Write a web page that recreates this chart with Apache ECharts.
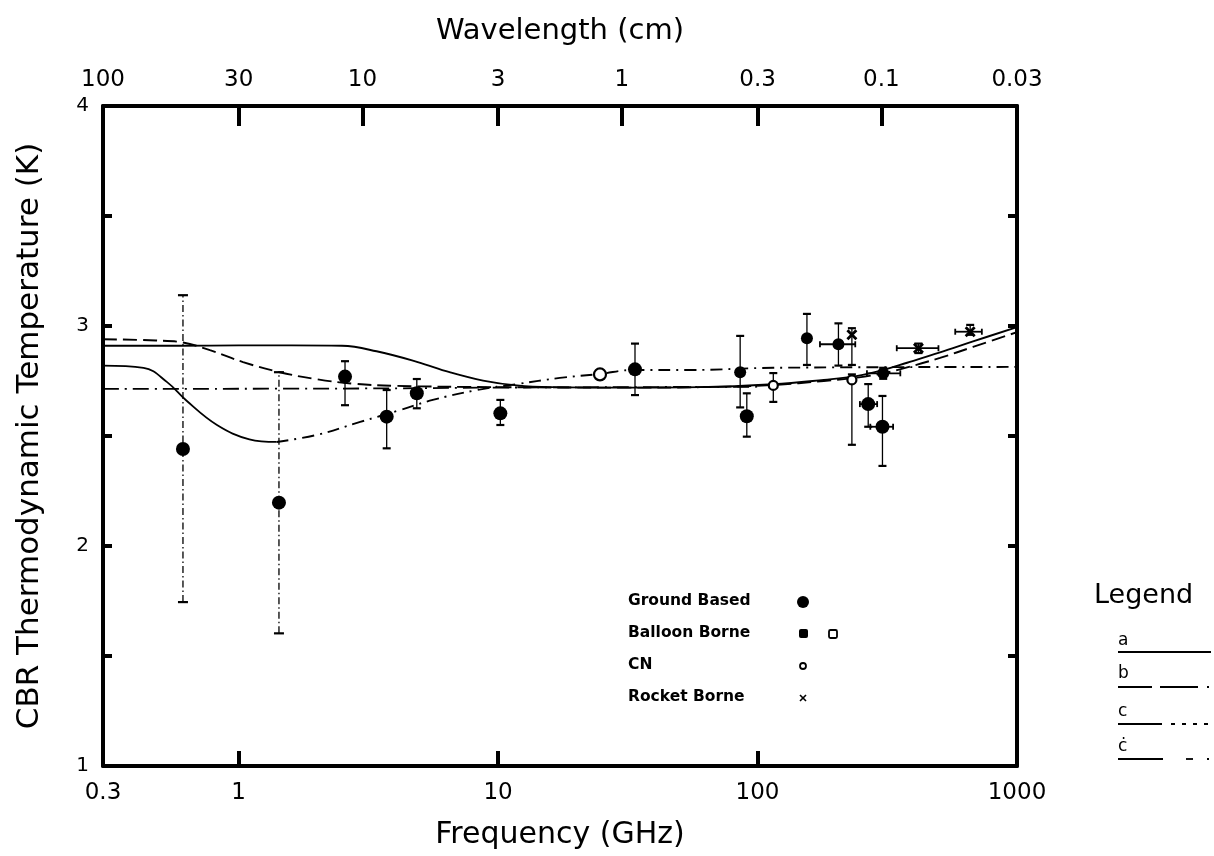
<!DOCTYPE html>
<html>
<head>
<meta charset="utf-8">
<script src="https://cdn.jsdelivr.net/npm/echarts@6/dist/echarts.min.js"></script>
<style>
html,body{margin:0;padding:0;background:#fff;}
#chart{width:1214px;height:856px;}
</style>
</head>
<body>
<div id="chart"></div>
<script>
// ---------- data ----------
// theoretical curves: [frequency GHz, temperature K]
const curveA = [[0.3,2.91],[0.6,2.91],[1,2.912],[1.6,2.912],[2.5,2.91],[3.4,2.885],[4.9,2.836],[6.5,2.79],[8.75,2.752],[11.8,2.73],[16,2.722],[30,2.72],[60,2.722],[115,2.735],[180,2.755],[240,2.772],[305,2.8],[377,2.833],[505,2.88],[677,2.93],[1000,2.995]];
const curveB = [[0.3,2.94],[0.48,2.934],[0.61,2.925],[0.775,2.89],[1.04,2.836],[1.44,2.79],[2.0,2.758],[2.76,2.738],[4,2.728],[10,2.722],[30,2.72],[60,2.722],[115,2.732],[180,2.75],[240,2.765],[305,2.785],[377,2.812],[505,2.855],[677,2.905],[1000,2.972]];
const curveCSolid = [[0.3,2.82],[0.43,2.81],[0.53,2.745],[0.63,2.66],[0.825,2.55],[1.1,2.485],[1.4,2.473]];
const curveCDash = [[1.4,2.473],[2.0,2.505],[2.94,2.564],[4.19,2.618],[5.6,2.664],[8.3,2.709],[11.8,2.736],[17.3,2.764],[24.7,2.782],[33,2.8],[55,2.8],[115,2.81],[1000,2.814]];
const curveD = [[0.3,2.714],[3,2.716],[10,2.72],[30,2.722],[100,2.724]];

// measurements: [frequency GHz, T, T low, T high]
const groundWide = [[0.61,2.441,1.745,3.14],[1.43,2.197,1.603,2.79]];
const groundBased = [[2.57,2.77,2.64,2.84],[3.72,2.588,2.444,2.709],[4.86,2.694,2.626,2.759],[10.2,2.603,2.55,2.664],[33.7,2.803,2.686,2.92],[90.9,2.59,2.497,2.694],[267,2.645,2.542,2.736],[303,2.542,2.364,2.682]];
const balloonFilled = [[85.7,2.79,2.63,2.955],[155,2.944,2.823,3.055],[205,2.917,2.82,3.012],[305,2.785,2.76,2.81]];
const balloonOpen = [[24.7,2.78]];
const cnPoints = [[115,2.73,2.655,2.786],[231,2.755,2.46,2.78]];
const rocketPoints = [[417,2.899,2.877,2.92],[660,2.974,2.96,3.005],[231,2.96,2.823,2.99]];
// horizontal (bandwidth) bars: [T, f low, f high]
const bandBars = [[2.917,174,238],[2.645,248,289],[2.542,272,333],[2.785,264,355],[2.899,344,498],[2.974,578,732]];

// axis ticks / labels
const freqTicks = [0.3,1,10,100,1000];
const freqLabels = ['0.3','1','10','100','1000'];
const waveTickFreqs = [1,3,10,30,100,300];
const waveLabelFreqs = [0.3,1,3,10,30,100,300,1000];
const waveLabels = ['100','30','10','3','1','0.3','0.1','0.03'];
const tempLabels = [1,2,3,4];

// ---------- helpers ----------
function nearestLabel(v, vals, labels){
  let best = 0, bd = Infinity;
  for (let i=0;i<vals.length;i++){ const d = Math.abs(Math.log10(v)-Math.log10(vals[i])); if(d<bd){bd=d;best=i;} }
  return bd < 0.02 ? labels[best] : '';
}
function vErrRender(dash, cap){
  return function(params, api){
    const x = api.value(0), lo = api.value(2), hi = api.value(3);
    const p1 = api.coord([x, lo]), p2 = api.coord([x, hi]);
    return {type:'group', children:[
      {type:'line', shape:{x1:p1[0],y1:p1[1],x2:p2[0],y2:p2[1]}, style:{stroke:'#000',lineWidth:1.3,lineDash:dash}},
      {type:'line', shape:{x1:p1[0]-cap,y1:p1[1],x2:p1[0]+cap,y2:p1[1]}, style:{stroke:'#000',lineWidth:2.2}},
      {type:'line', shape:{x1:p2[0]-cap,y1:p2[1],x2:p2[0]+cap,y2:p2[1]}, style:{stroke:'#000',lineWidth:2.2}}
    ]};
  };
}
function hBarRender(params, api){
  const t = api.value(0), f1 = api.value(1), f2 = api.value(2);
  const p1 = api.coord([f1, t]), p2 = api.coord([f2, t]);
  return {type:'group', children:[
    {type:'line', shape:{x1:p1[0],y1:p1[1],x2:p2[0],y2:p2[1]}, style:{stroke:'#000',lineWidth:1.8}},
    {type:'line', shape:{x1:p1[0],y1:p1[1]-3,x2:p1[0],y2:p1[1]+3}, style:{stroke:'#000',lineWidth:1.8}},
    {type:'line', shape:{x1:p2[0],y1:p2[1]-3,x2:p2[0],y2:p2[1]+3}, style:{stroke:'#000',lineWidth:1.8}}
  ]};
}
function errSeries(data, dash, cap){
  return {type:'custom', xAxisIndex:0, yAxisIndex:0, renderItem: vErrRender(dash, cap),
    data: data.filter(d=>d.length>=4), encode:{x:0, y:[2,3]}, silent:true, z:3};
}
function lineSeries(data, dash, width){
  return {type:'line', xAxisIndex:0, yAxisIndex:0, data:data, smooth:0.4, symbol:'none',
    lineStyle:{color:'#000', width:width||1.8, type: dash || 'solid'}, silent:true, z:2};
}
function dots(data, size, fill, stroke){
  return {type:'scatter', xAxisIndex:0, yAxisIndex:0, data:data.map(d=>[d[0],d[1]]),
    symbol:'circle', symbolSize:size,
    itemStyle:{color:fill, opacity:1, borderColor:stroke||fill, borderWidth:stroke?2.2:0},
    silent:true, z:5};
}

const FONT = 'DejaVu Sans';
const chart = echarts.init(document.getElementById('chart'), null, {renderer:'canvas'});

const option = {
  backgroundColor:'#fff',
  animation:false,
  textStyle:{fontFamily:FONT, color:'#000'},
  grid:{left:103, right:197, top:106, bottom:90, show:false},
  xAxis:[
    {type:'log', logBase:10, min:0.3, max:1000, position:'bottom',
     name:'Frequency (GHz)', nameLocation:'middle', nameGap:54,
     nameTextStyle:{fontSize:30, fontFamily:FONT, color:'#000'},
     axisLine:{show:true, onZero:false, lineStyle:{color:'#000', width:4}},
     axisTick:{show:true, inside:true, length:15, lineStyle:{color:'#000', width:4}, customValues: freqTicks},
     axisLabel:{show:true, fontSize:23, margin:16, color:'#000', fontFamily:FONT, customValues: freqTicks,
       formatter: v => nearestLabel(v, freqTicks, freqLabels)},
     splitLine:{show:false}, minorTick:{show:false}},
    {type:'log', logBase:10, min:0.3, max:1000, position:'top',
     name:'Wavelength (cm)', nameLocation:'middle', nameGap:60,
     nameTextStyle:{fontSize:29, fontFamily:FONT, color:'#000'},
     axisLine:{show:true, onZero:false, lineStyle:{color:'#000', width:4}},
     axisTick:{show:true, inside:true, length:20, lineStyle:{color:'#000', width:4}, customValues: waveTickFreqs},
     axisLabel:{show:true, fontSize:23, margin:14, color:'#000', fontFamily:FONT, customValues: waveLabelFreqs,
       formatter: v => nearestLabel(v, waveLabelFreqs, waveLabels)},
     splitLine:{show:false}, minorTick:{show:false}}
  ],
  yAxis:[
    {type:'value', min:1, max:4, interval:0.5, position:'left',
     name:'CBR Thermodynamic Temperature (K)', nameLocation:'middle', nameGap:58, nameRotate:90,
     nameTextStyle:{fontSize:31, fontFamily:FONT, color:'#000'},
     axisLine:{show:true, onZero:false, lineStyle:{color:'#000', width:4}},
     axisTick:{show:true, inside:true, length:9, lineStyle:{color:'#000', width:4}},
     axisLabel:{show:true, fontSize:20, margin:14, color:'#000', fontFamily:FONT,
       formatter: v => tempLabels.indexOf(v) >= 0 ? String(v) : ''},
     splitLine:{show:false}},
    {type:'value', min:1, max:4, interval:0.5, position:'right',
     axisLine:{show:true, onZero:false, lineStyle:{color:'#000', width:4}},
     axisTick:{show:true, inside:true, length:9, lineStyle:{color:'#000', width:4}},
     axisLabel:{show:false}, splitLine:{show:false}}
  ],
  series:[
    lineSeries(curveA, 'solid', 1.9),
    lineSeries(curveB, [14,6], 1.9),
    lineSeries(curveCSolid, 'solid', 1.8),
    lineSeries(curveCDash, [12,6,2,6], 1.9),
    lineSeries(curveD, [16,6,2,6], 1.8),
    errSeries(groundWide, [7,3,1.5,3], 5),
    errSeries(groundBased, null, 4),
    errSeries(balloonFilled, null, 4),
    errSeries(cnPoints, null, 4),
    errSeries(rocketPoints, null, 4),
    {type:'custom', xAxisIndex:0, yAxisIndex:0, renderItem:hBarRender, data:bandBars, encode:{x:[1,2], y:0}, silent:true, z:3},
    dots(groundWide.concat(groundBased), 14, '#000'),
    dots(balloonFilled, 12, '#000'),
    dots(balloonOpen, 12, '#fff', '#000'),
    dots(cnPoints, 9, '#fff', '#000'),
    {type:'scatter', xAxisIndex:0, yAxisIndex:0, data:rocketPoints.map(d=>[d[0],d[1]]),
     symbol:'path://M0,0L10,10M10,0L0,10', symbolSize:9,
     itemStyle:{color:'none', opacity:1, borderColor:'#000', borderWidth:2.8}, silent:true, z:5}
  ],
  graphic:[
    // in-plot legend
    {type:'text', left:628, top:593, style:{text:'Ground Based', font:'bold 15.5px "DejaVu Sans"', fill:'#000'}},
    {type:'text', left:628, top:625, style:{text:'Balloon Borne', font:'bold 15.5px "DejaVu Sans"', fill:'#000'}},
    {type:'text', left:628, top:657, style:{text:'CN', font:'bold 15.5px "DejaVu Sans"', fill:'#000'}},
    {type:'text', left:628, top:689, style:{text:'Rocket Borne', font:'bold 15.5px "DejaVu Sans"', fill:'#000'}},
    {type:'circle', shape:{cx:803, cy:602, r:6}, style:{fill:'#000'}},
    {type:'rect', shape:{x:799, y:629, width:9, height:9, r:2}, style:{fill:'#000'}},
    {type:'rect', shape:{x:829, y:630, width:8, height:8, r:1.5}, style:{fill:'#fff', stroke:'#000', lineWidth:1.8}},
    {type:'circle', shape:{cx:803, cy:666, r:3}, style:{fill:'#fff', stroke:'#000', lineWidth:1.8}},
    {type:'line', shape:{x1:800, y1:695, x2:806, y2:701}, style:{stroke:'#000', lineWidth:1.6}},
    {type:'line', shape:{x1:806, y1:695, x2:800, y2:701}, style:{stroke:'#000', lineWidth:1.6}},
    // right-hand legend
    {type:'text', left:1094, top:582, style:{text:'Legend', font:'27px "DejaVu Sans"', fill:'#000'}},
    {type:'text', left:1118, top:632, style:{text:'a', font:'17px "DejaVu Sans"', fill:'#000'}},
    {type:'line', shape:{x1:1118, y1:652, x2:1211, y2:652}, style:{stroke:'#000', lineWidth:1.8}},
    {type:'text', left:1118, top:665, style:{text:'b', font:'17px "DejaVu Sans"', fill:'#000'}},
    {type:'line', shape:{x1:1118, y1:687, x2:1152, y2:687}, style:{stroke:'#000', lineWidth:1.8}},
    {type:'line', shape:{x1:1160, y1:687, x2:1198, y2:687}, style:{stroke:'#000', lineWidth:1.8}},
    {type:'line', shape:{x1:1207, y1:687, x2:1209, y2:687}, style:{stroke:'#000', lineWidth:1.8}},
    {type:'text', left:1118, top:703, style:{text:'c', font:'17px "DejaVu Sans"', fill:'#000'}},
    {type:'line', shape:{x1:1118, y1:724, x2:1162, y2:724}, style:{stroke:'#000', lineWidth:1.8}},
    {type:'line', shape:{x1:1171, y1:724, x2:1211, y2:724}, style:{stroke:'#000', lineWidth:1.8, lineDash:[4,7]}},
    {type:'text', left:1118, top:738, style:{text:'ċ', font:'17px "DejaVu Sans"', fill:'#000'}},
    {type:'line', shape:{x1:1118, y1:759, x2:1163, y2:759}, style:{stroke:'#000', lineWidth:1.8}},
    {type:'line', shape:{x1:1186, y1:759, x2:1193, y2:759}, style:{stroke:'#000', lineWidth:1.8}},
    {type:'line', shape:{x1:1207, y1:759, x2:1209, y2:759}, style:{stroke:'#000', lineWidth:1.8}}
  ]
};
chart.setOption(option);
</script>
</body>
</html>
